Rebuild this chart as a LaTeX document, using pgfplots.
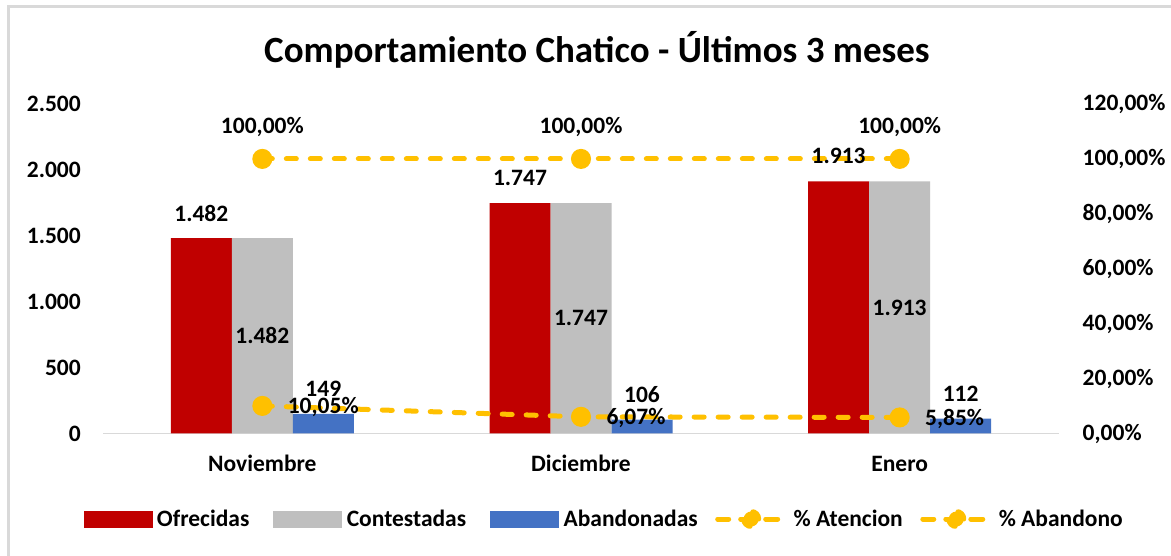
\documentclass[border=0pt]{standalone}
\usepackage{fontspec}
\setmainfont{Carlito}
\usepackage{pgfplots}
\pgfplotsset{compat=1.18}
\definecolor{ofre}{HTML}{C00000}
\definecolor{cont}{HTML}{BFBFBF}
\definecolor{aban}{HTML}{4472C4}
\definecolor{oro}{HTML}{FFC000}
\definecolor{marco}{HTML}{D9D9D9}

\tikzset{lbl/.style={font=\fontsize{23.5}{28}\selectfont\bfseries}}
\pgfplotsset{
  base/.style={
    at={(103pt,122.5pt)}, anchor=south west, scale only axis,
    width=956pt, height=329.5pt, xmin=-0.5, xmax=2.5,
    /pgf/number format/assume math mode=true,
    /pgf/number format/use comma,
  },
}

\begin{document}
\begin{tikzpicture}[x=1pt,y=1pt]
\path[use as bounding box, fill=white] (0,0) rectangle (1171,556);
\draw[marco, line width=3pt] (8,0) -- (8,549) -- (1171,549);

% barras
\begin{axis}[base,
  ymin=0, ymax=2500,
  axis x line*=bottom, axis y line*=left,
  x axis line style={draw=marco, line width=1.5pt, -},
  y axis line style={draw=none},
  major tick length=0pt,
  xtick={0,1,2}, xticklabels={Noviembre,Diciembre,Enero},
  ytick={0,500,...,2500},
  tick label style={lbl, inner sep=0pt},
  xticklabel style={anchor=base, yshift=-38.5pt},
  yticklabel style={anchor=east, xshift=-22pt},
]
\addplot[ybar, bar width=61pt, bar shift=-61pt, fill=ofre, draw=none] coordinates {(0,1482) (1,1747) (2,1913)};
\addplot[ybar, bar width=61pt, bar shift=0pt, fill=cont, draw=none] coordinates {(0,1482) (1,1747) (2,1913)};
\addplot[ybar, bar width=61pt, bar shift=61pt, fill=aban, draw=none] coordinates {(0,149) (1,106) (2,112)};
\end{axis}

% porcentajes
\begin{axis}[base,
  ymin=0, ymax=120,
  axis y line*=right, axis x line=none,
  y axis line style={draw=none},
  major tick length=0pt,
  xtick=\empty,
  ytick={0,20,...,120},
  yticklabel={\pgfmathprintnumber[fixed,fixed zerofill,precision=2]{\tick}\%},
  tick label style={lbl, inner sep=0pt},
  yticklabel style={anchor=west, xshift=23.5pt},
  legend columns=5,
  legend style={at={(0.5185,-0.2595)}, anchor=center, draw=none, fill=none,
    font=\fontsize{23.5}{28}\selectfont\bfseries,
    /tikz/every odd column/.append style={column sep=5pt},
    /tikz/every even column/.append style={column sep=15pt},
    nodes={inner sep=0pt}},
  linea/.style={oro, line width=5pt, line cap=round, dash pattern=on 10pt off 14pt,
    mark=*, mark size=7.5pt, mark options={solid, draw=none, fill=oro},
    nodes near coords={\pgfmathprintnumber[fixed,fixed zerofill,precision=2]{\pgfplotspointmeta}\%},
    legend image code/.code={
      \draw[oro, line width=5pt, line cap=round, solid] (2.5pt,0pt) -- (13.5pt,0pt);
      \draw[oro, line width=5pt, line cap=round, solid] (25.5pt,0pt) -- (36pt,0pt);
      \draw[oro, line width=5pt, line cap=round, solid] (50.5pt,0pt) -- (62.5pt,0pt);
      \fill[oro] (36pt,0pt) circle (7.5pt);
      \path (0pt,0pt) (71pt,0pt);}},
]
\addlegendimage{legend image code/.code={\path (-9pt,0pt); \fill[ofre] (0pt,-8pt) rectangle (68pt,8pt);}}
\addlegendentry{Ofrecidas}
\addlegendimage{legend image code/.code={\path (-9pt,0pt); \fill[cont] (0pt,-8pt) rectangle (68pt,8pt);}}
\addlegendentry{Contestadas}
\addlegendimage{legend image code/.code={\path (-9pt,0pt); \fill[aban] (0pt,-8pt) rectangle (68pt,8pt);}}
\addlegendentry{Abandonadas}
\addplot[linea, every node near coord/.style={lbl, text=black, anchor=center, yshift=32pt}]
  coordinates {(0,100) (1,100) (2,100)};
\addlegendentry{\% Atencion}
\addplot[linea, every node near coord/.style={lbl, text=black, anchor=west, inner sep=0pt, xshift=23pt, yshift=-1.5pt}]
  coordinates {(0,10.05) (1,6.07) (2,5.85)};
\addlegendentry{\% Abandono}
\end{axis}

% etiquetas de barras
\begin{axis}[base, ymin=0, ymax=2500, hide axis,
  nodes near coords, every node near coord/.style={lbl, text=black, anchor=center}]
\addplot[draw=none, mark=none, every node near coord/.append style={xshift=-61pt, yshift=25pt}]
  coordinates {(0,1482) (1,1747) (2,1913)};
\addplot[draw=none, mark=none, point meta=explicit]
  coordinates {(0,741) [1482] (1,873.5) [1747] (2,956.5) [1913]};
\addplot[draw=none, mark=none, every node near coord/.append style={xshift=61pt, yshift=25pt}]
  coordinates {(0,149) (1,106) (2,112)};
\end{axis}

\node[font=\fontsize{37}{44}\selectfont\bfseries, anchor=base] at (597,493)
  {Comportamiento Chatico - Últimos 3 meses};
\end{tikzpicture}
\end{document}
